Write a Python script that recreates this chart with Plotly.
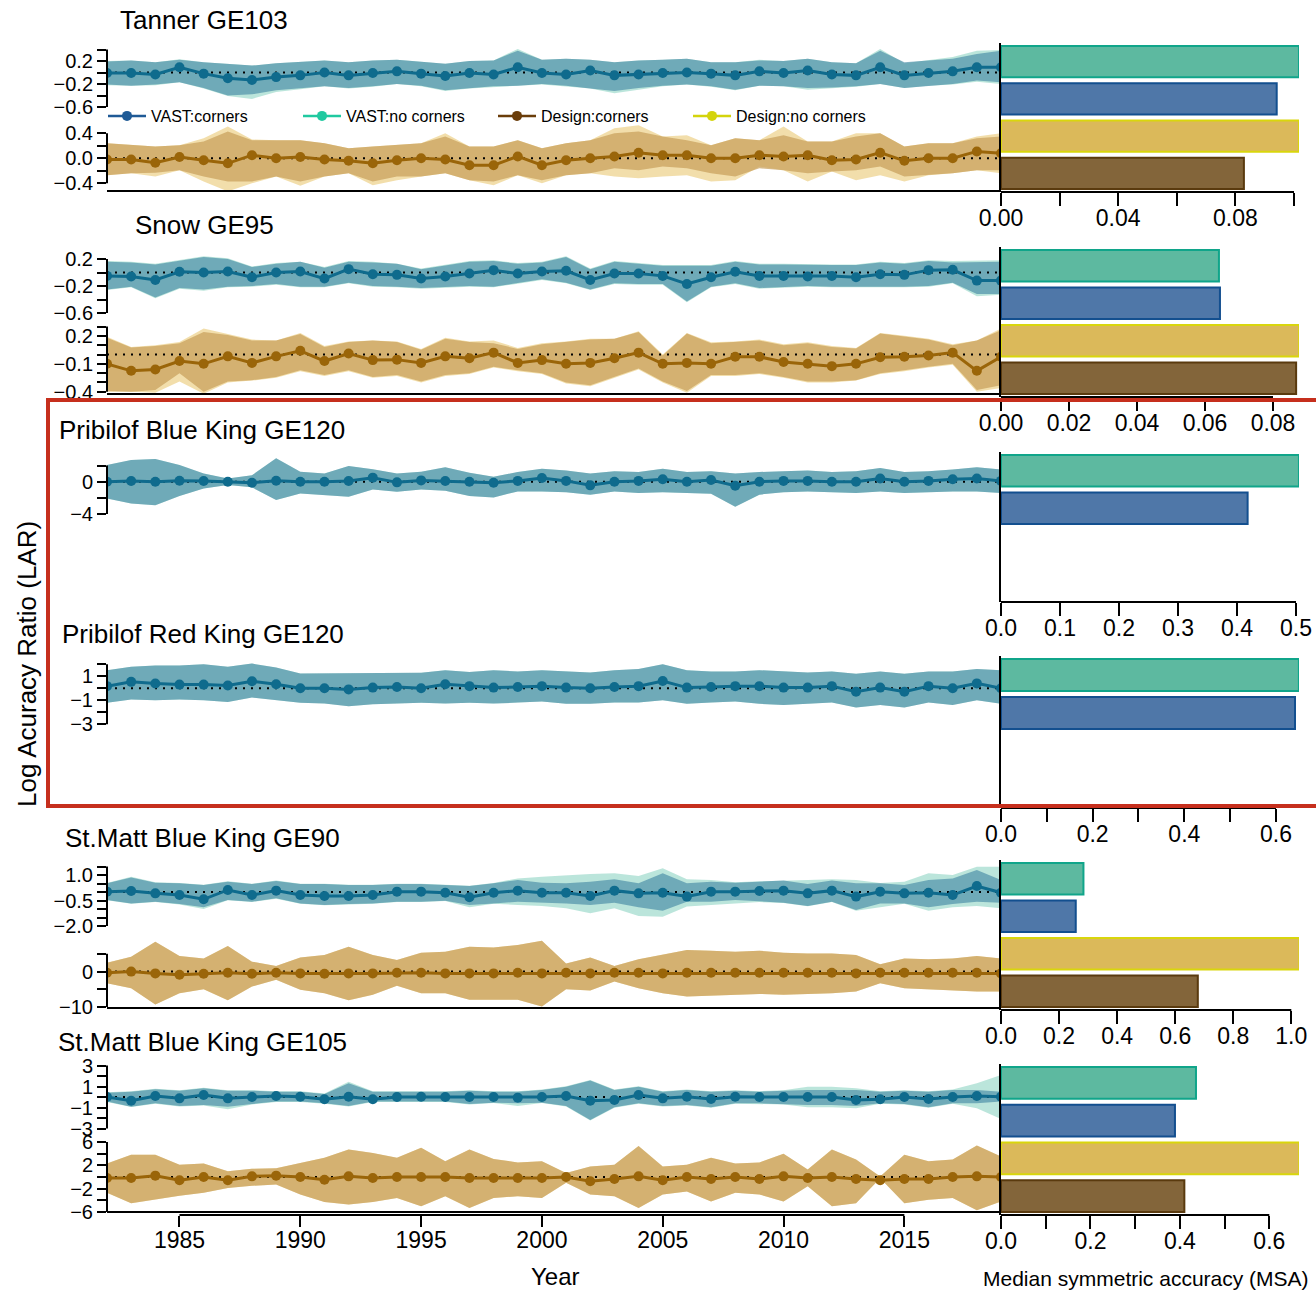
import plotly.graph_objects as go

W, H = 1316, 1291
years = list(range(1982, 2020))

# ---------------- Tanner GE103 ----------------
tanner_vast_mid = [-0.01, -0.01, -0.035, 0.09, -0.02, -0.10, -0.13, -0.08, -0.05, 0.0,
                   -0.05, -0.01, 0.02, -0.02, -0.06, -0.01, -0.035, 0.09, -0.01, -0.035,
                   0.035, -0.05, -0.035, -0.01, 0.0, -0.02, -0.05, 0.02, -0.01, 0.035,
                   -0.035, -0.05, 0.09, -0.05, -0.01, 0.02, 0.09, 0.09]
tanner_vast_c_hi = [0.19, 0.21, 0.18, 0.22, 0.18, 0.15, 0.12, 0.16, 0.18, 0.21,
                    0.18, 0.21, 0.22, 0.18, 0.15, 0.20, 0.21, 0.38, 0.22, 0.24,
                    0.22, 0.18, 0.21, 0.22, 0.24, 0.18, 0.18, 0.21, 0.20, 0.24,
                    0.18, 0.16, 0.38, 0.18, 0.21, 0.24, 0.32, 0.38]
tanner_vast_c_lo = [-0.21, -0.23, -0.21, -0.17, -0.27, -0.40, -0.38, -0.31, -0.28, -0.24,
                    -0.27, -0.24, -0.20, -0.23, -0.31, -0.27, -0.24, -0.23, -0.20, -0.23,
                    -0.28, -0.32, -0.27, -0.23, -0.21, -0.24, -0.30, -0.23, -0.24, -0.27,
                    -0.26, -0.24, -0.20, -0.27, -0.23, -0.20, -0.14, -0.17]
tanner_vast_nc_hi = [0.20, 0.21, 0.18, 0.23, 0.18, 0.15, 0.12, 0.16, 0.18, 0.21,
                     0.18, 0.21, 0.22, 0.19, 0.15, 0.20, 0.21, 0.41, 0.22, 0.24,
                     0.22, 0.18, 0.21, 0.22, 0.24, 0.18, 0.18, 0.22, 0.20, 0.24,
                     0.18, 0.16, 0.41, 0.16, 0.21, 0.27, 0.38, 0.39]
tanner_vast_nc_lo = [-0.22, -0.23, -0.22, -0.17, -0.28, -0.41, -0.46, -0.34, -0.29, -0.24,
                     -0.28, -0.25, -0.20, -0.24, -0.32, -0.28, -0.25, -0.23, -0.21, -0.25,
                     -0.28, -0.36, -0.30, -0.24, -0.21, -0.25, -0.31, -0.23, -0.24, -0.30,
                     -0.27, -0.25, -0.20, -0.27, -0.23, -0.21, -0.16, -0.20]
tanner_des_mid = [-0.02, -0.02, -0.07, 0.02, -0.03, -0.08, 0.05, 0.0, 0.02, -0.02,
                  -0.04, -0.08, -0.03, 0.0, -0.02, -0.11, -0.11, 0.03, -0.11, -0.03,
                  0.0, 0.03, 0.09, 0.05, 0.05, 0.0, 0.0, 0.05, 0.03, 0.05,
                  -0.03, -0.02, 0.09, -0.04, 0.0, 0.0, 0.11, 0.08]
tanner_des_c_hi = [0.24, 0.21, 0.19, 0.21, 0.27, 0.43, 0.29, 0.29, 0.29, 0.24,
                   0.16, 0.19, 0.21, 0.24, 0.35, 0.19, 0.19, 0.29, 0.16, 0.24,
                   0.29, 0.40, 0.43, 0.35, 0.29, 0.21, 0.32, 0.29, 0.37, 0.27,
                   0.27, 0.35, 0.40, 0.19, 0.24, 0.24, 0.32, 0.35]
tanner_des_c_lo = [-0.27, -0.24, -0.23, -0.19, -0.29, -0.37, -0.37, -0.29, -0.37, -0.29,
                   -0.24, -0.37, -0.29, -0.29, -0.24, -0.35, -0.37, -0.27, -0.35, -0.27,
                   -0.24, -0.16, -0.19, -0.13, -0.16, -0.24, -0.29, -0.16, -0.19, -0.24,
                   -0.21, -0.19, -0.13, -0.29, -0.27, -0.24, -0.19, -0.19]
tanner_des_nc_hi = [0.24, 0.21, 0.19, 0.21, 0.32, 0.51, 0.30, 0.29, 0.29, 0.24,
                    0.16, 0.19, 0.21, 0.24, 0.40, 0.19, 0.19, 0.29, 0.16, 0.24,
                    0.29, 0.48, 0.53, 0.35, 0.37, 0.21, 0.32, 0.29, 0.51, 0.27,
                    0.27, 0.40, 0.40, 0.19, 0.24, 0.24, 0.35, 0.40]
tanner_des_nc_lo = [-0.27, -0.24, -0.29, -0.19, -0.37, -0.53, -0.40, -0.29, -0.44, -0.29,
                    -0.24, -0.43, -0.35, -0.29, -0.24, -0.35, -0.43, -0.27, -0.40, -0.27,
                    -0.24, -0.29, -0.32, -0.29, -0.27, -0.37, -0.35, -0.13, -0.19, -0.37,
                    -0.21, -0.35, -0.27, -0.37, -0.27, -0.24, -0.19, -0.24]

# ---------------- Snow GE95 ----------------
snow_vast_mid = [-0.05, -0.06, -0.11, 0.01, 0.0, 0.015, -0.07, 0.0, 0.015, -0.09,
                 0.05, -0.025, -0.035, -0.09, -0.06, -0.015, 0.035, -0.015, 0.015, 0.025,
                 -0.11, -0.015, -0.015, -0.05, -0.17, -0.07, 0.01, -0.05, -0.05, -0.06,
                 -0.05, -0.07, -0.025, -0.035, 0.035, 0.04, -0.12, -0.12]
snow_vast_c_hi = [0.16, 0.15, 0.12, 0.17, 0.23, 0.20, 0.08, 0.13, 0.16, 0.07,
                  0.16, 0.15, 0.13, 0.05, 0.10, 0.16, 0.17, 0.13, 0.15, 0.23,
                  0.05, 0.16, 0.13, 0.10, 0.10, 0.10, 0.16, 0.12, 0.12, 0.11,
                  0.11, 0.11, 0.15, 0.13, 0.17, 0.15, 0.16, 0.16]
snow_vast_c_lo = [-0.25, -0.21, -0.37, -0.23, -0.25, -0.21, -0.20, -0.17, -0.21, -0.21,
                  -0.15, -0.20, -0.21, -0.23, -0.21, -0.20, -0.21, -0.15, -0.10, -0.15,
                  -0.25, -0.16, -0.17, -0.17, -0.43, -0.21, -0.16, -0.23, -0.21, -0.20,
                  -0.21, -0.22, -0.21, -0.21, -0.20, -0.15, -0.32, -0.32]
snow_vast_nc_hi = [0.17, 0.16, 0.13, 0.18, 0.24, 0.21, 0.09, 0.14, 0.16, 0.08,
                   0.17, 0.16, 0.13, 0.06, 0.11, 0.17, 0.18, 0.14, 0.16, 0.24,
                   0.06, 0.17, 0.14, 0.11, 0.11, 0.11, 0.17, 0.13, 0.13, 0.12,
                   0.12, 0.12, 0.16, 0.14, 0.18, 0.17, 0.18, 0.18]
snow_vast_nc_lo = [-0.26, -0.22, -0.38, -0.24, -0.27, -0.22, -0.21, -0.18, -0.22, -0.22,
                   -0.16, -0.21, -0.22, -0.24, -0.22, -0.21, -0.22, -0.16, -0.11, -0.16,
                   -0.26, -0.17, -0.18, -0.18, -0.44, -0.22, -0.17, -0.24, -0.22, -0.21,
                   -0.22, -0.23, -0.22, -0.22, -0.21, -0.16, -0.35, -0.33]
snow_des_mid = [-0.10, -0.175, -0.16, -0.07, -0.10, -0.02, -0.09, -0.02, 0.04, -0.07,
                0.01, -0.06, -0.055, -0.09, -0.02, -0.04, 0.02, -0.09, -0.06, -0.10,
                -0.09, -0.04, 0.02, -0.10, -0.09, -0.10, -0.025, -0.025, -0.08, -0.10,
                -0.125, -0.10, -0.03, -0.025, -0.01, 0.02, -0.175, -0.025]
snow_des_c_hi = [0.18, 0.075, 0.09, 0.12, 0.24, 0.21, 0.15, 0.15, 0.22, 0.08,
                 0.135, 0.15, 0.135, 0.05, 0.17, 0.135, 0.12, 0.06, 0.11, 0.135,
                 0.16, 0.17, 0.24, -0.01, 0.225, 0.12, 0.135, 0.15, 0.10, 0.12,
                 0.08, 0.065, 0.225, 0.19, 0.16, 0.10, 0.15, 0.26]
snow_des_c_lo = [-0.39, -0.40, -0.38, -0.20, -0.40, -0.29, -0.275, -0.24, -0.17, -0.22,
                 -0.17, -0.24, -0.22, -0.29, -0.22, -0.20, -0.13, -0.17, -0.20, -0.30,
                 -0.33, -0.24, -0.15, -0.29, -0.39, -0.22, -0.22, -0.20, -0.24, -0.29,
                 -0.29, -0.275, -0.20, -0.17, -0.13, -0.10, -0.38, -0.33]
snow_des_nc_hi = [0.19, 0.08, 0.10, 0.135, 0.28, 0.22, 0.16, 0.15, 0.23, 0.09,
                  0.14, 0.15, 0.14, 0.06, 0.18, 0.14, 0.15, 0.07, 0.12, 0.14,
                  0.17, 0.17, 0.25, 0.0, 0.23, 0.13, 0.14, 0.16, 0.11, 0.13,
                  0.09, 0.07, 0.23, 0.20, 0.17, 0.11, 0.15, 0.28]
snow_des_nc_lo = [-0.40, -0.40, -0.41, -0.29, -0.42, -0.30, -0.28, -0.25, -0.18, -0.23,
                  -0.18, -0.25, -0.23, -0.30, -0.23, -0.21, -0.14, -0.18, -0.21, -0.31,
                  -0.34, -0.25, -0.16, -0.30, -0.41, -0.23, -0.23, -0.21, -0.25, -0.30,
                  -0.30, -0.28, -0.21, -0.18, -0.14, -0.11, -0.40, -0.36]

# ---------------- Pribilof Blue King GE120 ----------------
pribb_vast_mid = [0.0, 0.08, 0.0, 0.12, 0.08, 0.0, -0.12, 0.12, 0.0, 0.0,
                  0.08, 0.5, -0.08, 0.16, 0.08, 0.0, -0.12, 0.1, 0.45, 0.1,
                  -0.45, 0.0, 0.1, 0.3, 0.0, 0.2, -0.5, 0.0, 0.1, 0.1,
                  0.0, 0.0, 0.4, 0.0, 0.1, 0.3, 0.4, 0.1]
pribb_vast_c_hi = [2.07, 2.7, 2.8, 2.07, 1.0, 0.4, 0.8, 2.9, 1.24, 1.0,
                   1.94, 1.53, 1.0, 1.24, 1.78, 1.1, 0.62, 1.2, 1.6, 1.4,
                   1.0, 1.3, 1.2, 1.6, 1.2, 1.3, 1.0, 1.2, 1.3, 1.4,
                   1.2, 1.3, 1.7, 1.2, 1.3, 1.5, 1.8, 1.5]
pribb_vast_c_lo = [-2.07, -2.7, -2.9, -1.78, -0.83, -0.41, -0.7, -2.27, -1.45, -1.65,
                   -1.86, -0.95, -1.24, -0.95, -1.12, -1.78, -1.94, -1.2, -1.2, -1.3,
                   -1.6, -1.2, -1.4, -1.3, -1.4, -1.5, -3.1, -1.6, -1.3, -1.2,
                   -1.3, -1.4, -1.2, -1.4, -1.3, -1.2, -1.2, -1.4]

# ---------------- Pribilof Red King GE120 ----------------
pribr_vast_mid = [0.17, 0.53, 0.39, 0.3, 0.3, 0.22, 0.58, 0.33, 0.0, 0.0,
                  -0.1, 0.05, 0.1, 0.0, 0.33, 0.17, 0.05, 0.1, 0.17, 0.05,
                  0.0, 0.1, 0.17, 0.6, 0.05, 0.1, 0.17, 0.17, 0.05, 0.05,
                  0.17, -0.3, 0.05, -0.3, 0.17, 0.0, 0.4, 0.0]
pribr_vast_c_hi = [1.5, 1.78, 1.9, 1.9, 2.0, 1.78, 2.05, 1.72, 1.22, 1.22,
                   1.22, 1.22, 1.28, 1.28, 1.5, 1.36, 1.5, 1.4, 1.5, 1.4,
                   1.3, 1.5, 1.6, 2.0, 1.5, 1.4, 1.4, 1.5, 1.4, 1.3,
                   1.4, 1.2, 1.4, 1.2, 1.4, 1.4, 1.6, 1.5]
pribr_vast_c_lo = [-1.22, -0.94, -1.0, -0.94, -1.0, -1.14, -0.78, -1.0, -1.22, -1.28,
                   -1.5, -1.33, -1.28, -1.22, -1.28, -1.22, -1.28, -1.2, -1.1, -1.3,
                   -1.3, -1.2, -1.2, -1.0, -1.3, -1.2, -1.1, -1.3, -1.4, -1.3,
                   -1.2, -1.6, -1.4, -1.6, -1.2, -1.4, -1.0, -1.3]

# ---------------- St.Matt Blue King GE90 ----------------
stm90_vast_mid = [0.02, 0.06, -0.08, -0.18, -0.43, 0.12, -0.18, 0.08, -0.18, -0.24,
                  -0.24, -0.18, 0.02, 0.02, -0.04, -0.31, -0.04, 0.08, -0.04, -0.04,
                  -0.24, 0.08, -0.08, -0.04, -0.27, 0.02, 0.02, 0.06, 0.08, -0.08,
                  0.08, -0.27, 0.02, -0.08, -0.04, -0.18, 0.35, -0.04]
stm90_vast_c_hi = [0.51, 0.86, 0.55, 0.51, 0.41, 0.61, 0.47, 0.65, 0.47, 0.47,
                   0.41, 0.41, 0.47, 0.47, 0.41, 0.35, 0.51, 0.71, 0.55, 0.51,
                   0.61, 0.75, 0.51, 1.10, 0.51, 0.61, 0.55, 0.61, 0.67, 0.47,
                   0.67, 0.51, 0.51, 0.41, 0.71, 0.80, 1.29, 0.71]
stm90_vast_c_lo = [-0.47, -0.67, -0.57, -0.71, -0.90, -0.47, -0.57, -0.37, -0.67, -0.76,
                   -0.71, -0.67, -0.57, -0.57, -0.51, -0.76, -0.67, -0.57, -0.63, -0.67,
                   -0.76, -0.63, -0.90, -1.10, -0.57, -0.57, -0.47, -0.57, -0.63, -0.82,
                   -0.57, -1.06, -0.67, -0.67, -0.90, -0.71, -0.57, -0.63]
stm90_vast_nc_hi = [0.53, 0.90, 0.57, 0.53, 0.43, 0.63, 0.49, 0.67, 0.49, 0.49,
                    0.43, 0.43, 0.49, 0.49, 0.43, 0.37, 0.53, 0.80, 0.90, 1.00,
                    1.06, 1.10, 0.94, 1.39, 0.75, 0.71, 0.57, 0.63, 0.69, 0.71,
                    0.75, 0.71, 0.53, 0.61, 1.10, 1.00, 1.49, 1.49]
stm90_vast_nc_lo = [-0.49, -0.69, -0.59, -0.73, -1.00, -0.49, -0.59, -0.39, -0.69, -0.78,
                    -0.73, -0.69, -0.59, -0.59, -0.53, -0.90, -0.69, -0.76, -0.82, -0.96,
                    -1.25, -0.96, -1.41, -1.45, -0.86, -0.76, -0.67, -0.59, -0.65, -0.84,
                    -0.59, -1.10, -0.90, -0.69, -1.10, -0.90, -0.82, -0.96]
stm90_des_mid = [-0.3, 0.0, -0.5, -0.9, -0.6, -0.3, -0.6, -0.3, -0.5, -0.6,
                 -0.5, -0.5, -0.3, -0.3, -0.5, -0.5, -0.5, -0.3, -0.5, -0.3,
                 -0.5, -0.3, -0.3, -0.5, -0.3, -0.3, -0.3, -0.3, -0.3, -0.3,
                 -0.3, -0.5, -0.3, -0.3, -0.3, -0.3, -0.3, -0.5]
stm90_des_c_hi = [2.5, 4.2, 8.4, 4.4, 3.7, 7.2, 2.8, 1.6, 4.0, 4.7,
                  7.0, 4.7, 3.3, 5.3, 5.6, 7.0, 6.8, 7.5, 8.7, 2.3,
                  4.0, 1.6, 3.5, 4.7, 6.1, 5.9, 5.6, 5.9, 5.3, 5.1,
                  5.1, 4.7, 2.1, 3.7, 3.5, 3.7, 4.4, 3.7]
stm90_des_c_lo = [-3.3, -4.7, -9.3, -6.1, -5.0, -8.1, -4.2, -2.3, -5.1, -6.1,
                  -8.1, -6.5, -4.0, -6.1, -6.1, -7.9, -7.9, -7.9, -9.8, -5.0,
                  -5.3, -2.8, -4.7, -6.1, -7.0, -6.8, -6.5, -6.3, -6.5, -6.3,
                  -6.1, -5.6, -3.3, -4.7, -5.0, -5.3, -5.6, -5.6]

# ---------------- St.Matt Blue King GE105 ----------------
stm105_vast_mid = [0.0, -0.35, 0.1, -0.13, 0.19, -0.13, 0.0, 0.1, 0.03, -0.22,
                   0.03, -0.22, 0.0, 0.03, 0.0, 0.0, 0.0, -0.06, 0.0, 0.1,
                   -0.35, -0.28, 0.19, -0.13, 0.03, -0.19, 0.03, 0.0, 0.0, 0.0,
                   0.0, -0.28, -0.22, 0.0, -0.19, 0.0, 0.1, 0.03]
stm105_vast_c_hi = [0.41, 0.51, 0.73, 0.60, 0.83, 0.60, 0.60, 0.51, 0.51, 0.29,
                    1.30, 0.51, 0.51, 0.51, 0.51, 0.60, 0.51, 0.51, 0.67, 0.98,
                    1.56, 0.67, 0.98, 0.51, 0.67, 0.51, 0.60, 0.51, 0.60, 0.67,
                    0.67, 0.67, 0.51, 0.60, 0.51, 0.67, 0.67, 0.51]
stm105_vast_c_lo = [-0.44, -0.92, -0.60, -0.86, -0.76, -0.92, -0.67, -0.44, -0.44, -0.60,
                    -0.86, -0.44, -0.44, -0.44, -0.44, -0.67, -0.54, -0.60, -0.54, -0.86,
                    -2.20, -0.98, -0.60, -0.86, -0.76, -0.98, -0.60, -0.60, -0.67, -0.76,
                    -0.76, -0.86, -0.60, -0.67, -0.98, -0.60, -0.60, -0.44]
stm105_vast_nc_hi = [0.45, 0.55, 0.78, 0.65, 0.88, 0.65, 0.65, 0.55, 0.55, 0.33,
                     1.46, 0.55, 0.55, 0.55, 0.55, 0.65, 0.55, 0.55, 0.72, 1.03,
                     1.62, 0.72, 1.03, 0.55, 0.72, 0.55, 0.65, 0.55, 0.65, 0.98,
                     0.98, 0.83, 0.55, 0.65, 0.55, 0.72, 1.30, 2.10]
stm105_vast_nc_lo = [-0.48, -0.96, -0.64, -0.90, -0.80, -1.17, -0.71, -0.48, -0.48, -0.64,
                     -0.90, -0.48, -0.48, -0.48, -0.48, -0.71, -0.58, -0.86, -0.58, -0.90,
                     -2.25, -1.02, -0.64, -0.90, -0.80, -1.02, -0.64, -0.64, -0.71, -0.98,
                     -0.98, -1.08, -0.64, -0.71, -1.02, -0.64, -1.08, -2.10]
stm105_des_mid = [-0.17, -0.17, 0.23, -0.57, 0.0, -0.57, 0.11, 0.23, 0.0, -0.46,
                  0.11, -0.17, 0.0, 0.0, 0.0, -0.17, -0.17, -0.17, -0.17, 0.0,
                  -0.74, -0.34, 0.11, -0.57, 0.0, -0.34, 0.0, -0.34, 0.11, -0.17,
                  0.0, -0.34, -0.57, -0.34, -0.34, 0.0, 0.11, 0.0]
stm105_des_c_hi = [2.3, 3.8, 3.8, 2.1, 2.3, 1.0, 1.4, 1.5, 2.4, 3.3,
                   4.7, 4.1, 3.3, 5.0, 2.7, 4.7, 3.1, 2.5, 2.7, 0.7,
                   1.8, 2.1, 5.3, 1.8, 2.1, 3.3, 2.3, 2.5, 4.0, 1.3,
                   4.7, 3.0, 0.1, 3.8, 2.7, 3.0, 5.4, 3.5]
stm105_des_c_lo = [-2.7, -4.5, -3.9, -3.2, -2.7, -1.9, -1.5, -1.3, -3.0, -4.3,
                   -4.7, -4.3, -3.6, -5.0, -3.3, -5.3, -3.6, -3.3, -3.6, -1.0,
                   -3.0, -3.3, -5.3, -3.0, -2.5, -4.2, -2.7, -3.0, -4.2, -1.6,
                   -5.0, -4.5, -0.2, -4.5, -3.9, -3.6, -5.7, -4.2]

# ---------------- MSA bars (VAST:no corners, VAST:corners, Design:no corners, Design:corners) ----------------
bar_categories = ["VAST:no corners", "VAST:corners", "Design:no corners", "Design:corners"]
tanner_msa = [0.1017, 0.0941, 0.1017, 0.0829]
snow_msa = [0.0641, 0.0644, 0.0877, 0.0868]
pribb_msa = [0.505, 0.418, None, None]
pribr_msa = [0.650, 0.6415, None, None]
stm90_msa = [0.284, 0.2575, 1.028, 0.678]
stm105_msa = [0.436, 0.389, 0.667, 0.410]

titles = ["Tanner GE103", "Snow GE95", "Pribilof Blue King GE120", "Pribilof Red King GE120",
          "St.Matt Blue King GE90", "St.Matt Blue King GE105"]
year_ticks = [1985, 1990, 1995, 2000, 2005, 2010, 2015]
legend_names = ["VAST:corners", "VAST:no corners", "Design:corners", "Design:no corners"]

# ---------------- helpers / styles ----------------
def fy(px):
    return 1 - px / H


def fx(px):
    return px / W


FONT = "Liberation Sans, Arial, sans-serif"
M = "\u2212"
VAST = dict(nc="rgba(150,215,200,0.65)", c="rgba(60,130,160,0.60)", line="#0f6b8d")
DES = dict(nc="rgba(236,208,135,0.70)", c="rgba(200,160,90,0.72)", line="#9a6509")
BAR_FILL = ["#5db9a0", "#4f77a8", "#dbb95a", "#83653a"]
BAR_EDGE = ["#10a58a", "#134f8f", "#d9d60c", "#5a3a0e"]
LEG_COL = ["#1f5a96", "#20c9a0", "#6a3d0a", "#d4d40c"]

X_L, X_R = 107, 1001

ts_specs = [
    dict(mid=tanner_vast_mid, chi=tanner_vast_c_hi, clo=tanner_vast_c_lo, nchi=tanner_vast_nc_hi, nclo=tanner_vast_nc_lo,
         st=VAST, dom=(42, 112), zero=72.5, ppu=57.5,
         tv=[0.4, 0.2, 0.0, -0.2, -0.4, -0.6], tt=["", "0.2", "", M + "0.2", "", M + "0.6"]),
    dict(mid=tanner_des_mid, chi=tanner_des_c_hi, clo=tanner_des_c_lo, nchi=tanner_des_nc_hi, nclo=tanner_des_nc_lo,
         st=DES, dom=(120, 191), zero=158.3, ppu=62.5,
         tv=[0.4, 0.2, 0.0, -0.2, -0.4], tt=["0.4", "", "0.0", "", M + "0.4"]),
    dict(mid=snow_vast_mid, chi=snow_vast_c_hi, clo=snow_vast_c_lo, nchi=snow_vast_nc_hi, nclo=snow_vast_nc_lo,
         st=VAST, dom=(245, 318), zero=272.5, ppu=67.5,
         tv=[0.2, 0.0, -0.2, -0.4, -0.6], tt=["0.2", "", M + "0.2", "", M + "0.6"]),
    dict(mid=snow_des_mid, chi=snow_des_c_hi, clo=snow_des_c_lo, nchi=snow_des_nc_hi, nclo=snow_des_nc_lo,
         st=DES, dom=(322, 394), zero=354.5, ppu=93.3,
         tv=[0.3, 0.2, 0.1, 0.0, -0.1, -0.2, -0.3, -0.4], tt=["", "0.2", "", "", M + "0.1", "", "", M + "0.4"]),
    dict(mid=pribb_vast_mid, chi=pribb_vast_c_hi, clo=pribb_vast_c_lo, nchi=pribb_vast_c_hi, nclo=pribb_vast_c_lo,
         st=VAST, dom=(450, 520), zero=481.7, ppu=8.08,
         tv=[2, 0, -2, -4], tt=["", "0", "", M + "4"]),
    dict(mid=pribr_vast_mid, chi=pribr_vast_c_hi, clo=pribr_vast_c_lo, nchi=pribr_vast_c_hi, nclo=pribr_vast_c_lo,
         st=VAST, dom=(652, 730), zero=688.2, ppu=12.0,
         tv=[2, 1, 0, -1, -2, -3], tt=["", "1", "", M + "1", "", M + "3"]),
    dict(mid=stm90_vast_mid, chi=stm90_vast_c_hi, clo=stm90_vast_c_lo, nchi=stm90_vast_nc_hi, nclo=stm90_vast_nc_lo,
         st=VAST, dom=(858, 932), zero=892.0, ppu=17.0,
         tv=[1.5, 1.0, 0.5, 0.0, -0.5, -1.0, -1.5, -2.0], tt=["", "1.0", "", "", M + "0.5", "", "", M + "2.0"]),
    dict(mid=stm90_des_mid, chi=stm90_des_c_hi, clo=stm90_des_c_lo, nchi=stm90_des_c_hi, nclo=stm90_des_c_lo,
         st=DES, dom=(938, 1008), zero=971.6, ppu=3.55,
         tv=[5, 0, -5, -10], tt=["", "0", "", M + "10"]),
    dict(mid=stm105_vast_mid, chi=stm105_vast_c_hi, clo=stm105_vast_c_lo, nchi=stm105_vast_nc_hi, nclo=stm105_vast_nc_lo,
         st=VAST, dom=(1058, 1132), zero=1097.0, ppu=10.5,
         tv=[3, 2, 1, 0, -1, -2, -3], tt=["3", "", "1", "", M + "1", "", M + "3"]),
    dict(mid=stm105_des_mid, chi=stm105_des_c_hi, clo=stm105_des_c_lo, nchi=stm105_des_c_hi, nclo=stm105_des_c_lo,
         st=DES, dom=(1136, 1212), zero=1177.0, ppu=5.83,
         tv=[6, 4, 2, 0, -2, -4, -6], tt=["6", "", "2", "", M + "2", "", M + "6"]),
]

bar_specs = [
    dict(vals=tanner_msa, dom=(43, 192), ppu=2930.0, tv=[0, 0.02, 0.04, 0.06, 0.08, 0.10],
         tt=["0.00", "", "0.04", "", "0.08", ""]),
    dict(vals=snow_msa, dom=(247, 397), ppu=3400.0, tv=[0, 0.02, 0.04, 0.06, 0.08],
         tt=["0.00", "0.02", "0.04", "0.06", "0.08"]),
    dict(vals=pribb_msa, dom=(452, 602), ppu=590.0, tv=[0, 0.1, 0.2, 0.3, 0.4, 0.5],
         tt=["0.0", "0.1", "0.2", "0.3", "0.4", "0.5"]),
    dict(vals=pribr_msa, dom=(656, 808), ppu=458.3, tv=[0, 0.1, 0.2, 0.3, 0.4, 0.5, 0.6],
         tt=["0.0", "", "0.2", "", "0.4", "", "0.6"]),
    dict(vals=stm90_msa, dom=(860, 1010), ppu=290.3, tv=[0, 0.2, 0.4, 0.6, 0.8, 1.0],
         tt=["0.0", "0.2", "0.4", "0.6", "0.8", "1.0"]),
    dict(vals=stm105_msa, dom=(1064, 1215), ppu=447.2, tv=[0, 0.1, 0.2, 0.3, 0.4, 0.5, 0.6],
         tt=["0.0", "", "0.2", "", "0.4", "", "0.6"]),
]

fig = go.Figure()
layout = {}
shapes = []
annotations = []
line_k = dict(color="black", width=2)


def ids(i):
    return ("x" if i == 1 else f"x{i}"), ("y" if i == 1 else f"y{i}"), ("" if i == 1 else str(i))


for i, s in enumerate(ts_specs, start=1):
    xa, ya, k = ids(i)
    st = s["st"]
    xs = years + years[::-1]
    fig.add_trace(go.Scatter(x=xs, y=s["nchi"] + s["nclo"][::-1], fill="toself", fillcolor=st["nc"],
                             mode="lines", line=dict(width=0), xaxis=xa, yaxis=ya,
                             showlegend=False, hoverinfo="skip"))
    fig.add_trace(go.Scatter(x=xs, y=s["chi"] + s["clo"][::-1], fill="toself", fillcolor=st["c"],
                             mode="lines", line=dict(width=0), xaxis=xa, yaxis=ya,
                             showlegend=False, hoverinfo="skip"))
    fig.add_trace(go.Scatter(x=years, y=[0] * len(years), mode="lines",
                             line=dict(color="black", width=2, dash="2px,6px"),
                             xaxis=xa, yaxis=ya, showlegend=False, hoverinfo="skip"))
    fig.add_trace(go.Scatter(x=years, y=s["mid"], mode="lines+markers",
                             line=dict(color=st["line"], width=3),
                             marker=dict(size=10, color=st["line"]),
                             xaxis=xa, yaxis=ya, showlegend=False))
    top, bot = s["dom"]
    rng = [(s["zero"] - bot) / s["ppu"], (s["zero"] - top) / s["ppu"]]
    layout["xaxis" + k] = dict(domain=[fx(X_L), fx(X_R)], range=[1982, 2019], anchor=ya,
                               visible=False, showgrid=False, zeroline=False)
    layout["yaxis" + k] = dict(domain=[fy(bot), fy(top)], range=rng, anchor=xa,
                               tickmode="array", tickvals=s["tv"], ticktext=s["tt"],
                               ticks="outside", ticklen=9, tickwidth=2, tickcolor="black",
                               showline=False, showgrid=False, zeroline=False,
                               tickfont=dict(size=20, color="black", family=FONT))
    shapes.append(dict(type="line", xref="paper", yref=ya, x0=fx(X_L), x1=fx(X_L),
                       y0=max(s["tv"]), y1=min(s["tv"]), line=line_k))

# bottom box lines of panels with design rows
for ypx in [191, 394, 1008, 1212]:
    shapes.append(dict(type="line", xref="paper", yref="paper", x0=fx(X_L), x1=fx(X_R),
                       y0=fy(ypx), y1=fy(ypx), line=line_k))

# Year axis on the last time-series subplot
last = len(ts_specs)
xa, ya, k = ids(last)
layout["xaxis" + k].update(visible=True, anchor="free", position=fy(1215), tickmode="array",
                           tickvals=year_ticks, ticks="outside", ticklen=11, tickwidth=2,
                           tickcolor="black", showline=False, showticklabels=True,
                           ticklabelstandoff=-7,
                           tickfont=dict(size=23, color="black", family=FONT))
shapes.append(dict(type="line", xref=xa, yref="paper", x0=year_ticks[0], x1=year_ticks[-1],
                   y0=fy(1215), y1=fy(1215), line=line_k))

# Bar panels
for j, b in enumerate(bar_specs):
    i = last + 1 + j
    xa, ya, k = ids(i)
    fig.add_trace(go.Bar(x=b["vals"], y=bar_categories, orientation="h", width=0.84,
                         marker=dict(color=BAR_FILL, line=dict(color=BAR_EDGE, width=2)),
                         xaxis=xa, yaxis=ya, showlegend=False))
    top, bot = b["dom"]
    layout["xaxis" + k] = dict(domain=[fx(X_R), fx(1299)], range=[0, (1299 - X_R) / b["ppu"]],
                               anchor=ya, tickmode="array", tickvals=b["tv"], ticktext=b["tt"],
                               ticks="outside", ticklen=13, tickwidth=2, tickcolor="black",
                               showline=False, showgrid=False, zeroline=False,
                               ticklabelstandoff=-8,
                               tickfont=dict(size=23, color="black", family=FONT))
    layout["yaxis" + k] = dict(domain=[fy(bot), fy(top)], type="category",
                               categoryorder="array", categoryarray=bar_categories,
                               range=[3.5, -0.5], anchor=xa, showline=True, linecolor="black",
                               linewidth=2, showticklabels=False, ticks="", showgrid=False,
                               zeroline=False)
    shapes.append(dict(type="line", xref=xa, yref="paper", x0=0, x1=b["tv"][-1],
                       y0=fy(bot), y1=fy(bot), line=line_k))

# Legend-only traces
for name, col in zip(legend_names, LEG_COL):
    fig.add_trace(go.Scatter(x=[None], y=[None], mode="lines+markers", name=name,
                             line=dict(color=col, width=2.5), marker=dict(size=10, color=col),
                             xaxis="x", yaxis="y", showlegend=True))

# Titles
title_pos = [(118, 20), (133, 225), (57, 430), (60, 634), (63, 838), (56, 1042)]
for t, (px, pyy) in zip(titles, title_pos):
    annotations.append(dict(text=t, x=fx(px), y=fy(pyy), xref="paper", yref="paper",
                            xanchor="left", yanchor="middle", showarrow=False,
                            font=dict(size=26, color="black", family=FONT)))
annotations.append(dict(text="Year", x=fx(555), y=fy(1276), xref="paper", yref="paper",
                        xanchor="center", yanchor="middle", showarrow=False,
                        font=dict(size=24, color="black", family=FONT)))
annotations.append(dict(text="Median symmetric accuracy (MSA)", x=fx(1146), y=fy(1278),
                        xref="paper", yref="paper", xanchor="center", yanchor="middle",
                        showarrow=False, font=dict(size=21, color="black", family=FONT)))
annotations.append(dict(text="Log Acuracy Ratio (LAR)", x=fx(27), y=fy(664), xref="paper",
                        yref="paper", xanchor="center", yanchor="middle", textangle=-90,
                        showarrow=False, font=dict(size=26, color="black", family=FONT)))

# Red highlight box
shapes.append(dict(type="rect", xref="paper", yref="paper", x0=fx(48), x1=fx(1340),
                   y0=fy(806), y1=fy(400), line=dict(color="#c62f1d", width=4),
                   fillcolor="rgba(0,0,0,0)", layer="above"))

fig.update_layout(
    template="none",
    width=W, height=H, margin=dict(l=0, r=0, t=0, b=0),
    paper_bgcolor="white", plot_bgcolor="rgba(0,0,0,0)",
    font=dict(family=FONT, color="black"),
    showlegend=True,
    legend=dict(orientation="h", x=fx(103), y=fy(116), xanchor="left", yanchor="middle",
                font=dict(size=16, color="black", family=FONT), bgcolor="rgba(0,0,0,0)",
                entrywidth=142, entrywidthmode="pixels", itemwidth=38),
    shapes=shapes, annotations=annotations, bargap=0.16,
    **layout,
)

fig.write_html("out.html")
